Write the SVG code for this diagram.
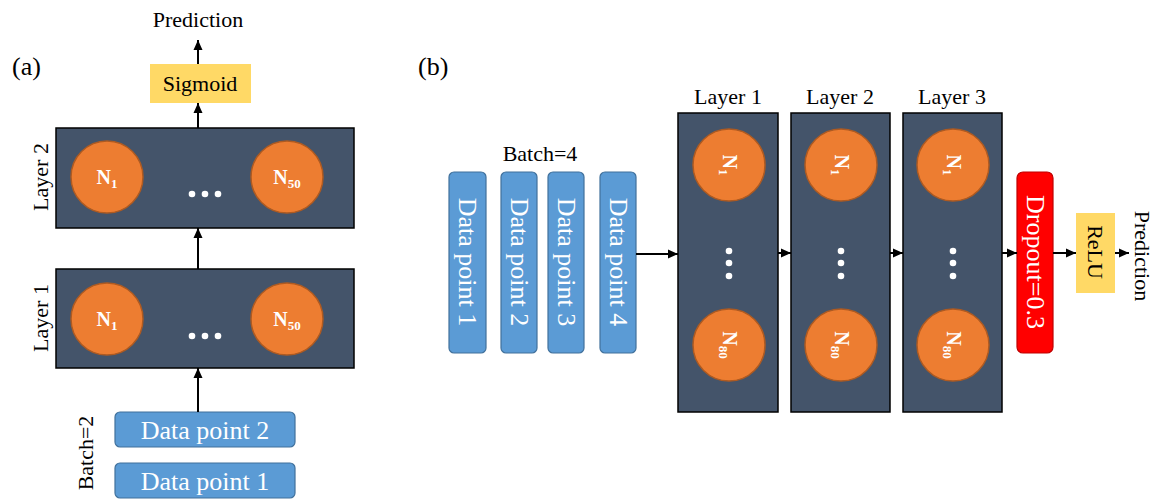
<svg xmlns="http://www.w3.org/2000/svg" width="1158" height="500" viewBox="0 0 1158 500" font-family="'Liberation Serif', 'Times New Roman', serif">
<defs>
<marker id="arr" markerUnits="userSpaceOnUse" markerWidth="10" markerHeight="10" refX="10" refY="5" orient="auto">
<path d="M0,0.5 L10,5 L0,9.5 z" fill="#000"/>
</marker>
<style>
text{font-family:"Liberation Serif","Times New Roman",serif;}
.lbl{font-size:22px;fill:#000;}
.big{font-size:26px;fill:#000;}
.dp{font-size:26px;fill:#fff;}
.layer{fill:#44546A;stroke:#000;stroke-width:1.5;}
.neuron{fill:#ED7D31;stroke:#AE5A21;stroke-width:1.5;}
.nt{font-size:20px;font-weight:bold;fill:#fff;}
.data{fill:#5B9BD5;stroke:#41719C;stroke-width:1.2;}
.act{fill:#FFD966;}
.drop{fill:#FF0000;stroke:#C00000;stroke-width:1.2;}
.dot{fill:#fff;}
.conn line{stroke:#000;stroke-width:2;marker-end:url(#arr);}
</style>
</defs>
<rect width="1158" height="500" fill="#fff"/>

<!-- Panel (a) -->
<text class="big" x="12" y="75">(a)</text>
<text class="lbl" x="198" y="27" text-anchor="middle" id="pred-a">Prediction</text>

<g id="sigmoid">
<rect class="act" x="150" y="64" width="101" height="39"/>
<text class="lbl" x="200" y="91" text-anchor="middle">Sigmoid</text>
</g>

<g id="layer2-a">
<rect class="layer" x="56" y="128" width="298" height="100"/>
<circle class="neuron" cx="107" cy="177" r="36"/>
<circle class="neuron" cx="287" cy="177" r="36"/>
<text class="nt" x="107" y="184" text-anchor="middle">N<tspan font-size="13" dy="4">1</tspan></text>
<text class="nt" x="287" y="184" text-anchor="middle">N<tspan font-size="13" dy="4">50</tspan></text>
<circle class="dot" cx="192" cy="194" r="3.3"/>
<circle class="dot" cx="205" cy="194" r="3.3"/>
<circle class="dot" cx="218" cy="194" r="3.3"/>
<text class="lbl" transform="translate(40,177) rotate(-90)" x="0" y="7.5" text-anchor="middle">Layer 2</text>
</g>

<g id="layer1-a">
<rect class="layer" x="56" y="269" width="298" height="99"/>
<circle class="neuron" cx="107" cy="319" r="36"/>
<circle class="neuron" cx="287" cy="319" r="36"/>
<text class="nt" x="107" y="326" text-anchor="middle">N<tspan font-size="13" dy="4">1</tspan></text>
<text class="nt" x="287" y="326" text-anchor="middle">N<tspan font-size="13" dy="4">50</tspan></text>
<circle class="dot" cx="192" cy="336" r="3.3"/>
<circle class="dot" cx="205" cy="336" r="3.3"/>
<circle class="dot" cx="218" cy="336" r="3.3"/>
<text class="lbl" transform="translate(40,318) rotate(-90)" x="0" y="7.5" text-anchor="middle">Layer 1</text>
</g>

<g id="dp2-a">
<rect class="data" x="115" y="412" width="180" height="35" rx="5"/>
<text class="dp" x="205" y="439" text-anchor="middle">Data point 2</text>
</g>
<g id="dp1-a">
<rect class="data" x="115" y="463" width="180" height="35" rx="5"/>
<text class="dp" x="205" y="490" text-anchor="middle">Data point 1</text>
</g>
<text class="lbl" transform="translate(85,453) rotate(-90)" x="0" y="7.5" text-anchor="middle" id="batch2">Batch=2</text>

<!-- Panel (b) -->
<text class="big" x="418" y="75">(b)</text>
<text class="lbl" x="540" y="161" text-anchor="middle" id="batch4">Batch=4</text>

<g id="dp1-b">
<rect class="data" x="449" y="172" width="37" height="181" rx="5"/>
<text class="dp" transform="translate(467.5,262) rotate(90)" x="0" y="8.5" text-anchor="middle">Data point 1</text>
</g>
<g id="dp2-b">
<rect class="data" x="501" y="172" width="36" height="181" rx="5"/>
<text class="dp" transform="translate(519,262) rotate(90)" x="0" y="8.5" text-anchor="middle">Data point 2</text>
</g>
<g id="dp3-b">
<rect class="data" x="548" y="172" width="36" height="181" rx="5"/>
<text class="dp" transform="translate(566,262) rotate(90)" x="0" y="8.5" text-anchor="middle">Data point 3</text>
</g>
<g id="dp4-b">
<rect class="data" x="600" y="172" width="36" height="181" rx="5"/>
<text class="dp" transform="translate(618,262) rotate(90)" x="0" y="8.5" text-anchor="middle">Data point 4</text>
</g>

<g id="layer1-b">
<text class="lbl" x="728" y="104" text-anchor="middle">Layer 1</text>
<rect class="layer" x="678" y="113" width="100" height="299"/>
<circle class="neuron" cx="729" cy="165" r="36"/>
<circle class="neuron" cx="729" cy="345" r="36"/>
<text class="nt" transform="translate(729,165) rotate(90)" x="0" y="6.5" text-anchor="middle">N<tspan font-size="13" dy="4">1</tspan></text>
<text class="nt" transform="translate(729,345) rotate(90)" x="0" y="6.5" text-anchor="middle">N<tspan font-size="13" dy="4">80</tspan></text>
<circle class="dot" cx="729" cy="251" r="3.3"/>
<circle class="dot" cx="729" cy="263" r="3.3"/>
<circle class="dot" cx="729" cy="276" r="3.3"/>
</g>

<g id="layer2-b">
<text class="lbl" x="840" y="104" text-anchor="middle">Layer 2</text>
<rect class="layer" x="791" y="113" width="99" height="299"/>
<circle class="neuron" cx="841" cy="165" r="36"/>
<circle class="neuron" cx="841" cy="345" r="36"/>
<text class="nt" transform="translate(841,165) rotate(90)" x="0" y="6.5" text-anchor="middle">N<tspan font-size="13" dy="4">1</tspan></text>
<text class="nt" transform="translate(841,345) rotate(90)" x="0" y="6.5" text-anchor="middle">N<tspan font-size="13" dy="4">80</tspan></text>
<circle class="dot" cx="841" cy="251" r="3.3"/>
<circle class="dot" cx="841" cy="263" r="3.3"/>
<circle class="dot" cx="841" cy="276" r="3.3"/>
</g>

<g id="layer3-b">
<text class="lbl" x="952" y="104" text-anchor="middle">Layer 3</text>
<rect class="layer" x="903" y="113" width="99" height="299"/>
<circle class="neuron" cx="953" cy="165" r="36"/>
<circle class="neuron" cx="953" cy="345" r="36"/>
<text class="nt" transform="translate(953,165) rotate(90)" x="0" y="6.5" text-anchor="middle">N<tspan font-size="13" dy="4">1</tspan></text>
<text class="nt" transform="translate(953,345) rotate(90)" x="0" y="6.5" text-anchor="middle">N<tspan font-size="13" dy="4">80</tspan></text>
<circle class="dot" cx="953" cy="251" r="3.3"/>
<circle class="dot" cx="953" cy="263" r="3.3"/>
<circle class="dot" cx="953" cy="276" r="3.3"/>
</g>

<g id="dropout">
<rect class="drop" x="1017" y="172" width="36" height="181" rx="6"/>
<text class="dp" transform="translate(1035,262) rotate(90)" x="0" y="8.5" text-anchor="middle">Dropout=0.3</text>
</g>

<g id="relu">
<rect class="act" x="1076" y="213" width="39" height="80"/>
<text class="lbl" transform="translate(1095.5,252) rotate(90)" x="0" y="7.5" text-anchor="middle">ReLU</text>
</g>
<text class="lbl" transform="translate(1142,256) rotate(90)" x="0" y="7.5" text-anchor="middle" id="pred-b">Prediction</text>

<g class="conn" id="connectors">
<line x1="198" y1="64" x2="198" y2="40"/>
<line x1="198" y1="128" x2="198" y2="103"/>
<line x1="198" y1="269" x2="198" y2="228"/>
<line x1="198" y1="412" x2="198" y2="368"/>
<line x1="636" y1="254" x2="678" y2="254"/>
<line x1="778" y1="253" x2="791" y2="253"/>
<line x1="890" y1="253" x2="903" y2="253"/>
<line x1="1002" y1="253" x2="1017" y2="253"/>
<line x1="1053" y1="253" x2="1076" y2="253"/>
<line x1="1115" y1="253" x2="1129" y2="253"/>
</g>
</svg>
